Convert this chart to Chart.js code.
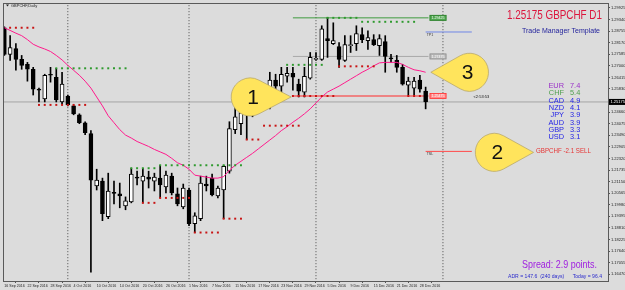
<!DOCTYPE html>
<html>
<head>
<meta charset="utf-8">
<script src="https://cdn.jsdelivr.net/npm/chart.js@4.4.1/dist/chart.umd.min.js"></script>
<style>
  html, body { margin: 0; padding: 0; background: #dcdcdc; }
  #wrap { width: 625px; height: 290px; }
</style>
</head>
<body>
<div id="wrap"><canvas id="c" width="625" height="290"></canvas></div>
<script>
// GBPCHF daily, 16 Sep 2016 .. 29 Dec 2016 (one entry per bar)
const opens = [
  1.28925, 1.27575, 1.27875, 1.27325, 1.27075, 1.26825, 1.25825, 1.25325, 1.26575, 1.26425,
  1.25175, 1.25475, 1.24975, 1.24525, 1.24125, 1.23575, 1.20925, 1.21175, 1.19375, 1.20575,
  1.20525, 1.19925, 1.20125, 1.21375, 1.21175, 1.21375, 1.21175, 1.21325, 1.20875, 1.21425,
  1.20525, 1.19875, 1.20725, 1.19025, 1.19275, 1.21025, 1.21325, 1.20425, 1.20725, 1.21675,
  1.23775, 1.24075, 1.24575, 1.24875, 1.25175, 1.25575, 1.25425, 1.26275, 1.25975, 1.26475,
  1.26625, 1.26075, 1.25675, 1.26375, 1.27325, 1.27325, 1.28375, 1.28125, 1.27975, 1.27275,
  1.28025, 1.28125, 1.28575, 1.28275, 1.28325, 1.28025, 1.28225, 1.27375, 1.27275, 1.26925,
  1.26025, 1.25875, 1.26275, 1.25725
];
const highs = [
  1.28975, 1.28525, 1.28125, 1.27525, 1.27175, 1.26925, 1.25875, 1.26575, 1.26925, 1.26875,
  1.26675, 1.25525, 1.25025, 1.24575, 1.24175, 1.23725, 1.21775, 1.21325, 1.21575, 1.21175,
  1.21075, 1.20375, 1.21825, 1.21675, 1.21825, 1.21675, 1.21575, 1.21975, 1.21675, 1.21575,
  1.20825, 1.21025, 1.20825, 1.19575, 1.21425, 1.21425, 1.21525, 1.20925, 1.21975, 1.24175,
  1.24925, 1.25025, 1.25175, 1.25425, 1.26175, 1.25925, 1.26675, 1.26575, 1.26925, 1.26925,
  1.26925, 1.26325, 1.26925, 1.27675, 1.27675, 1.29025, 1.29425, 1.29175, 1.28175, 1.28525,
  1.28525, 1.29025, 1.28925, 1.28775, 1.28575, 1.28575, 1.28525, 1.27575, 1.27525, 1.27075,
  1.26425, 1.26425, 1.26525, 1.25925
];
const lows = [
  1.27525, 1.27275, 1.26775, 1.26825, 1.26225, 1.25525, 1.25175, 1.25175, 1.26175, 1.25175,
  1.25075, 1.24975, 1.24525, 1.24075, 1.23525, 1.16575, 1.20725, 1.19175, 1.19275, 1.20025,
  1.19825, 1.19725, 1.20075, 1.20975, 1.20075, 1.20825, 1.20675, 1.20325, 1.20575, 1.20475,
  1.19925, 1.19775, 1.18925, 1.18575, 1.19175, 1.20675, 1.20425, 1.20325, 1.19275, 1.21575,
  1.23575, 1.23525, 1.23275, 1.24425, 1.24925, 1.24825, 1.24825, 1.25575, 1.25425, 1.26175,
  1.25775, 1.25425, 1.25425, 1.26325, 1.27275, 1.27275, 1.27425, 1.28075, 1.26925, 1.27225,
  1.27675, 1.27775, 1.28175, 1.27825, 1.28025, 1.27525, 1.26675, 1.27175, 1.26675, 1.26025,
  1.25525, 1.25525, 1.25675, 1.24825
];
const closes = [
  1.27575, 1.27925, 1.27325, 1.27025, 1.26825, 1.25825, 1.25775, 1.26525, 1.26525, 1.25275,
  1.26075, 1.25025, 1.24575, 1.24125, 1.23625, 1.21225, 1.21225, 1.19525, 1.20675, 1.20550,
  1.20425, 1.20175, 1.21525, 1.21325, 1.21425, 1.21275, 1.21375, 1.20975, 1.21475, 1.20575,
  1.20025, 1.20825, 1.19025, 1.19425, 1.21075, 1.20925, 1.20475, 1.20825, 1.21925, 1.23825,
  1.24425, 1.24625, 1.24925, 1.25175, 1.25575, 1.25375, 1.26275, 1.25975, 1.26575, 1.26625,
  1.26425, 1.25725, 1.26475, 1.27425, 1.27375, 1.28875, 1.28275, 1.28275, 1.27325, 1.28075,
  1.28075, 1.28625, 1.28325, 1.28425, 1.28075, 1.28375, 1.27475, 1.27350, 1.26925, 1.26075,
  1.26225, 1.26225, 1.25825, 1.25175
];
// moving average (magenta)
const maValues = [
  1.28925, 1.2879, 1.2865, 1.28525, 1.28325, 1.2809, 1.27955, 1.2785, 1.27725, 1.27525,
  1.273, 1.27025, 1.26775, 1.26525, 1.26225, 1.25875, 1.25425, 1.24975, 1.24475, 1.24125,
  1.23775, 1.235, 1.2335, 1.23175, 1.2305, 1.22925, 1.22775, 1.2265, 1.22525, 1.22325,
  1.221, 1.21975, 1.21775, 1.21475, 1.21425, 1.21375, 1.21325, 1.21325, 1.214, 1.21725,
  1.21975, 1.22175, 1.22375, 1.22575, 1.228, 1.23025, 1.2325, 1.23475, 1.23725, 1.23925,
  1.2415, 1.2435, 1.24575, 1.24825, 1.25125, 1.25425, 1.25675, 1.25825, 1.25975, 1.2615,
  1.26325, 1.265, 1.26675, 1.26825, 1.27, 1.2715, 1.27175, 1.27175, 1.27175, 1.27075,
  1.26925, 1.268, 1.2675, 1.26675
];

// time axis labels (bar index -> text)
const dateIdx = [0, 4, 8, 12, 16, 20, 24, 28, 32, 36, 40, 44, 48, 52, 56, 60, 64, 68, 72];
const dateLabels = ['16 Sep 2016', '22 Sep 2016', '28 Sep 2016', '4 Oct 2016', '10 Oct 2016',
  '14 Oct 2016', '20 Oct 2016', '26 Oct 2016', '1 Nov 2016', '7 Nov 2016', '11 Nov 2016',
  '17 Nov 2016', '23 Nov 2016', '29 Nov 2016', '5 Dec 2016', '9 Dec 2016', '15 Dec 2016',
  '21 Dec 2016', '28 Dec 2016'];
const monthStarts = [11, 32, 54, 76];

// price axis labels
const priceTicks = [1.29925, 1.29340, 1.28755, 1.28170, 1.27585, 1.27000, 1.26415, 1.25830,
  1.24660, 1.24075, 1.23490, 1.22905, 1.22320, 1.21735, 1.21150, 1.20565, 1.19980, 1.19395,
  1.18810, 1.18225, 1.17640, 1.17055, 1.16470];
const bidPrice = 1.25175;

// fractal level dots: [price, first bar, last bar]
const redLevels = [
  [1.28925, 1, 5], [1.25025, 6, 14], [1.20075, 24, 26], [1.20325, 27, 32],
  [1.18575, 33, 37], [1.19275, 38, 41], [1.23275, 42, 44], [1.23975, 45, 51],
  [1.26975, 58, 64], [1.25475, 50, 57], [1.25475, 70, 72]
];
const greenLevels = [
  [1.26875, 9, 21], [1.21825, 22, 26], [1.21975, 27, 41], [1.27050, 49, 55],
  [1.29425, 56, 61], [1.29225, 62, 71]
];

// trade manager lines
const tradeLevels = [1.29425, 1.27475, 1.25475];
const tradeFrom = 50, tradeTo = 73.5;
const targetLevels = [1.28710, 1.22675];
const targetNames = ['TP1', 'TSL'];
const targetFrom = 73, targetTo = 81;

// currency strength panel
const currencies = ['EUR', 'CHF', 'CAD', 'NZD', 'JPY', 'AUD', 'GBP', 'USD'];
const strength = [7.4, 5.4, 4.9, 4.1, 3.9, 3.9, 3.3, 3.1];

// callouts: number, tip (bar, price), round centre bar
const callouts = [
  { n: '1', tip: 49.7, price: 1.25425, centre: 42.6 },
  { n: '2', tip: 91.7, price: 1.22625, centre: 84.9 },
  { n: '3', tip: 73.9, price: 1.26675, centre: 80.6 }
];

const FONT = '"Liberation Sans", Arial, sans-serif';
const bars = opens.map((_, i) => i);

function dotSet(level, color) {
  const pts = [];
  for (let i = level[1]; i <= level[2]; i++) pts.push({ x: i, y: level[0] });
  return {
    type: 'line', data: pts, showLine: false, pointStyle: 'rect', pointRadius: 1.4,
    pointBackgroundColor: color, pointBorderWidth: 0, clip: 0, order: 0
  };
}
function segment(x0, x1, y, color, extra) {
  return Object.assign({
    type: 'line', data: [{ x: x0, y: y }, { x: x1, y: y }], borderColor: color,
    borderWidth: 1, pointRadius: 0, clip: 0, order: 4
  }, extra || {});
}

const tradeColors = ['#3f9a3f', '#a8a8a8', '#ff2a2a'];
const datasets = [];
datasets.push(segment(-1, 110, bidPrice, '#a4a4a4', { order: 6 }));
monthStarts.forEach(m => datasets.push({
  type: 'line', data: [{ x: m, y: 1.10 }, { x: m, y: 1.40 }], borderColor: '#4a4a4a',
  borderWidth: 1, borderDash: [1, 2], pointRadius: 0, clip: 0, order: 6
}));
tradeLevels.forEach((p, k) => datasets.push(segment(tradeFrom, tradeTo, p, tradeColors[k])));
datasets.push(segment(targetFrom, targetTo, targetLevels[0], '#6f86e6'));
datasets.push(segment(targetFrom, targetTo, targetLevels[1], '#ff4a4a'));
datasets.push({
  type: 'bar', data: bars.map(i => ({ x: i, y: [lows[i], highs[i]] })),
  backgroundColor: '#000', borderWidth: 0, barThickness: 1, grouped: false, clip: 0, order: 3
});
datasets.push({
  type: 'bar', data: bars.map(i => ({ x: i, y: [opens[i], closes[i]] })),
  backgroundColor: bars.map(i => closes[i] > opens[i] ? '#ffffff' : '#000000'),
  borderColor: '#000', borderWidth: 1, borderSkipped: false, barThickness: 4,
  minBarLength: 1, grouped: false, clip: 0, order: 2
});
datasets.push({
  type: 'line', data: bars.map(i => ({ x: i, y: maValues[i] })), borderColor: '#ff1a8c',
  borderWidth: 1, pointRadius: 0, tension: 0, clip: 0, order: 1
});
redLevels.forEach(l => datasets.push(dotSet(l, '#c81414')));
greenLevels.forEach(l => datasets.push(dotSet(l, '#2e9a2e')));

const overlay = {
  id: 'overlay',
  afterDatasetsDraw(chart) {
    const ctx = chart.ctx, xs = chart.scales.x, ys = chart.scales.y, a = chart.chartArea;
    ctx.save();
    // trade line price boxes
    const boxFill = ['#4fa64f', '#bdbdbd', '#ff8c8c'];
    const boxLine = ['#2f7f2f', '#8a8a8a', '#ff2a2a'];
    tradeLevels.forEach((p, k) => {
      const bx = xs.getPixelForValue(tradeTo) + 1, by = ys.getPixelForValue(p);
      ctx.fillStyle = boxFill[k];
      ctx.fillRect(bx, by - 3, 17, 6);
      ctx.strokeStyle = boxLine[k];
      ctx.lineWidth = 0.7;
      ctx.strokeRect(bx + 0.5, by - 2.5, 16, 5);
      ctx.fillStyle = '#ffffff';
      ctx.font = '3.6px ' + FONT;
      ctx.textAlign = 'center';
      ctx.textBaseline = 'middle';
      ctx.fillText(p.toFixed(5), bx + 8.5, by + 0.2);
    });
    // target line names
    ctx.fillStyle = '#333';
    ctx.font = '3.6px ' + FONT;
    ctx.textAlign = 'left';
    targetLevels.forEach((p, k) => {
      ctx.fillText(targetNames[k], xs.getPixelForValue(targetFrom) + 1, ys.getPixelForValue(p) + 2.6);
    });
    // bar timer
    ctx.fillStyle = '#111';
    ctx.font = '4px ' + FONT;
    ctx.fillText('<2:53:53', xs.getPixelForValue(81.3), ys.getPixelForValue(1.2545));

    // callouts
    callouts.forEach(c => {
      const tx = xs.getPixelForValue(c.tip), ty = ys.getPixelForValue(c.price);
      const cx = xs.getPixelForValue(c.centre), cy = ty, r = 19;
      const th = Math.atan2(ty - cy, tx - cx);
      const d = Math.abs(tx - cx), al = Math.acos(r / d);
      ctx.beginPath();
      ctx.moveTo(tx, ty);
      ctx.arc(cx, cy, r, th + al, th - al + Math.PI * 2, false);
      ctx.closePath();
      ctx.fillStyle = '#ffe45c';
      ctx.fill();
      ctx.strokeStyle = '#b9a86a';
      ctx.lineWidth = 0.8;
      ctx.stroke();
      ctx.fillStyle = '#111';
      ctx.font = '21px ' + FONT;
      ctx.textAlign = 'center';
      ctx.textBaseline = 'middle';
      ctx.fillText(c.n, cx + (tx > cx ? 3 : -2), cy + 1);
    });

    // texts on the right
    const R = a.right;
    ctx.textBaseline = 'middle';
    ctx.textAlign = 'right';
    ctx.fillStyle = '#dc143c';
    ctx.font = '12px ' + FONT;
    ctx.fillText('1.25175 GBPCHF D1', R - 6, 16, 95);
    ctx.fillStyle = '#23239c';
    ctx.font = '7.6px ' + FONT;
    ctx.fillText('Trade Manager Template', R - 8, 31, 78);

    currencies.forEach((cur, k) => {
      const y = 86 + k * 7.3;
      ctx.fillStyle = k === 0 ? '#9b32c8' : (k === 1 ? '#4f9f4f' : '#2424e6');
      ctx.font = '7.4px ' + FONT;
      ctx.textAlign = 'right';
      ctx.fillText(cur, R - 44, y);
      ctx.textAlign = 'left';
      ctx.fillText(strength[k].toFixed(1), R - 38, y);
    });

    ctx.textAlign = 'left';
    ctx.fillStyle = '#e53535';
    ctx.font = '7.4px ' + FONT;
    ctx.fillText('GBPCHF -2.1 SELL', R - 72, 151, 55);

    ctx.textAlign = 'right';
    ctx.fillStyle = '#a020e0';
    ctx.font = '11px ' + FONT;
    ctx.fillText('Spread: 2.9 points.', R - 11, 265, 75);
    ctx.fillStyle = '#2a2acc';
    ctx.font = '5.2px ' + FONT;
    ctx.fillText('ADR = 147.6  (240 days)      Today = 96.4', R - 6, 277, 94);

    // symbol caption
    ctx.textAlign = 'left';
    ctx.fillStyle = '#222';
    ctx.font = '4px ' + FONT;
    ctx.fillText('GBPCHF,Daily', a.left + 7, 5.5);
    ctx.beginPath();
    ctx.moveTo(a.left + 2, 4.5); ctx.lineTo(a.left + 5, 4.5); ctx.lineTo(a.left + 3.5, 6.5);
    ctx.closePath(); ctx.fill();
    ctx.restore();
  },
  afterDraw(chart) {
    const ctx = chart.ctx, a = chart.chartArea, ys = chart.scales.y;
    ctx.save();
    ctx.strokeStyle = '#5a5a5a';
    ctx.lineWidth = 1;
    ctx.strokeRect(a.left - 0.5, a.top - 0.5, a.right - a.left + 1, a.bottom - a.top + 1);
    const by = ys.getPixelForValue(bidPrice);
    ctx.fillStyle = '#000';
    ctx.fillRect(a.right + 1, by - 3, 16, 6);
    ctx.fillStyle = '#fff';
    ctx.font = '4px ' + FONT;
    ctx.textBaseline = 'middle';
    ctx.textAlign = 'left';
    ctx.fillText(bidPrice.toFixed(5), a.right + 2.5, by + 0.3);
    ctx.restore();
  }
};

new Chart(document.getElementById('c'), {
  type: 'line',
  data: { datasets: datasets },
  options: {
    responsive: false,
    animation: false,
    devicePixelRatio: 1,
    events: [],
    layout: { padding: { left: 2, top: 1, right: 0, bottom: 0 } },
    scales: {
      x: {
        type: 'linear', min: -0.06, max: 104.6, offset: false,
        afterBuildTicks: s => { s.ticks = dateIdx.map(v => ({ value: v })); },
        afterFit: s => { s.height = 9; },
        grid: { drawOnChartArea: false, tickLength: 2, color: '#555' },
        border: { color: '#5a5a5a' },
        ticks: {
          autoSkip: false, maxRotation: 0, minRotation: 0, align: 'start', padding: 1,
          color: '#222', font: { size: 3.6, family: FONT },
          callback: (v, i) => dateLabels[i]
        }
      },
      y: {
        type: 'linear', position: 'right', min: 1.16125, max: 1.30125,
        afterBuildTicks: s => { s.ticks = priceTicks.map(v => ({ value: v })); },
        afterFit: s => { s.width = 17; },
        grid: { drawOnChartArea: false, tickLength: 2, color: '#555' },
        border: { color: '#5a5a5a' },
        ticks: {
          autoSkip: false, padding: 1, color: '#222', font: { size: 4, family: FONT },
          callback: v => v.toFixed(5)
        }
      }
    },
    plugins: { legend: { display: false }, tooltip: { enabled: false } }
  },
  plugins: [overlay]
});
</script>
</body>
</html>
